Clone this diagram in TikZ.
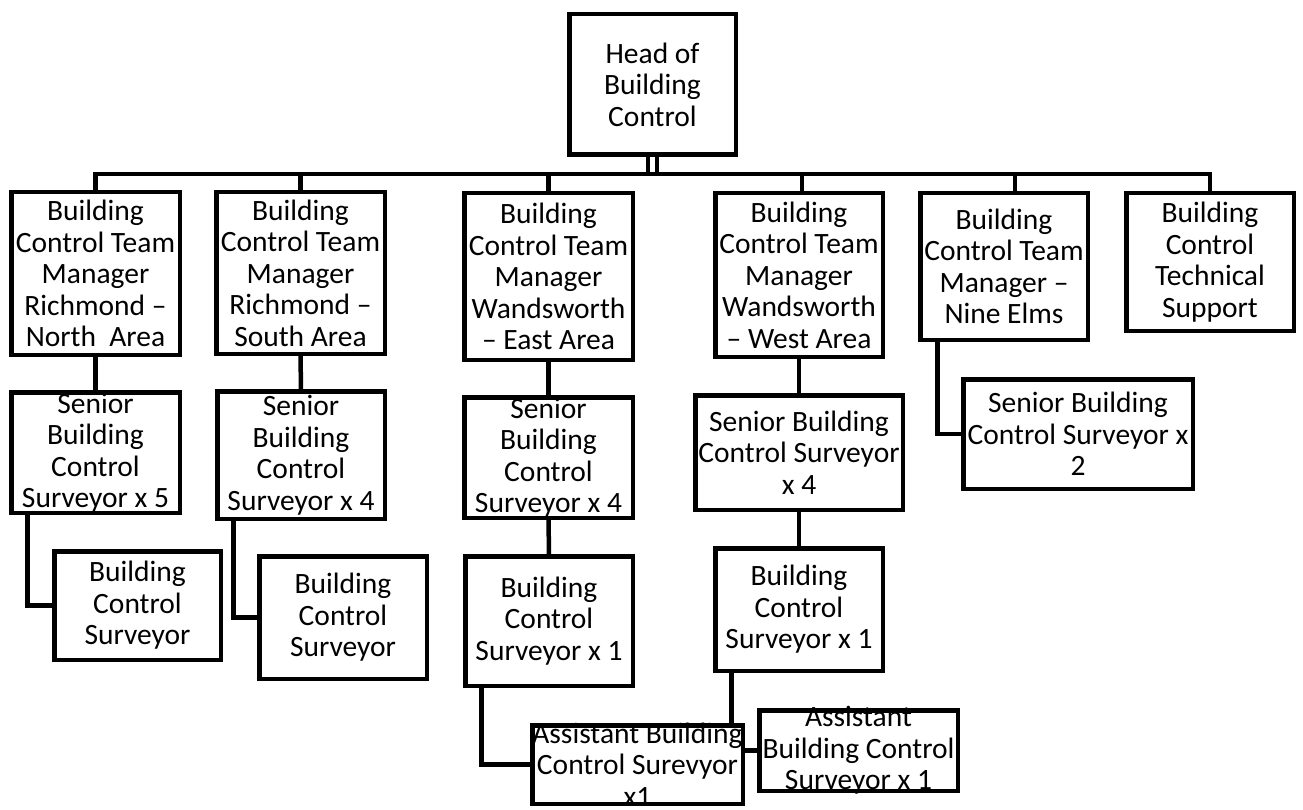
\documentclass[tikz,border=0pt]{standalone}
\usepackage{fontspec}
\setmainfont{Carlito}
\tikzset{
  obx/.style={draw, line width=4.5pt, inner sep=0pt, outer sep=0pt, fill=white},
  otx/.style={align=center, inner sep=0pt, font=\fontsize{29.5}{31.5}\selectfont},
  conn/.style={line width=4.5pt}
}
\newcommand{\obox}[6]{%
  \pgfmathsetmacro\ow{#4-#2-4.5}\pgfmathsetmacro\oh{#5-#3-4.5}%
  \node[obx, minimum width=\ow pt, minimum height=\oh pt] (#1) at ({(#2+#4)/2},{(#3+#5)/2}) {};
  \node[otx] (#1t) at (#1.center) {#6};}
\begin{document}
\begin{tikzpicture}[x=1pt,y=-1pt]
\useasboundingbox (0,0) rectangle (1303,810);
% boxes
\obox{head}{567}{12}{738}{157}{Head of\\Building\\Control}
\obox{m1}{9}{190}{182}{357}{Building\\Control Team\\Manager\\Richmond –\\North\ \ Area}
\obox{m2}{214}{190}{387}{356}{Building\\Control Team\\Manager\\Richmond –\\South Area}
\obox{m3}{462}{191}{635}{362}{Building\\Control Team\\Manager\\Wandsworth\\– East Area}
\obox{m4}{713}{191}{885}{359}{Building\\Control Team\\Manager\\Wandsworth\\– West Area}
\obox{m5}{918}{191}{1090}{342}{Building\\Control Team\\Manager –\\Nine Elms}
\obox{m6}{1124}{191}{1296}{333}{Building\\Control\\Technical\\Support}
\obox{s1}{9}{390}{182}{515}{Senior\\Building\\Control\\Surveyor x 5}
\obox{s2}{215}{389}{387}{521}{Senior\\Building\\Control\\Surveyor x 4}
\obox{s3}{462}{395}{635}{520}{Senior\\Building\\Control\\Surveyor x 4}
\obox{s4}{693}{393}{905}{512}{Senior Building\\Control Surveyor\\x 4}
\obox{s5}{961}{377}{1195}{491}{Senior Building\\Control Surveyor x\\2}
\obox{b1}{52}{549}{223}{662}{Building\\Control\\Surveyor}
\obox{b2}{257}{554}{429}{681}{Building\\Control\\Surveyor}
\obox{b3}{463}{554}{635}{688}{Building\\Control\\Surveyor x 1}
\obox{b4}{713}{546}{885}{673}{Building\\Control\\Surveyor x 1}
\obox{a1}{530}{723}{745}{806}{Assistant Building\\Control Surevyor\\x1}
\obox{a2}{757}{708}{960}{793}{Assistant\\Building Control\\Surveyor x 1}
% connectors
\coordinate (bus) at (661,174);
\draw[line width=4pt] ([xshift=-4.5pt]head.south) -- ([xshift=-4.5pt]head.south |- bus);
\draw[line width=4pt] ([xshift=4.5pt]head.south) -- ([xshift=4.5pt]head.south |- bus);
\draw[conn] (m1.north) -- (m1.north |- bus) -- (m6.north |- bus) -- (m6.north);
\draw[conn] (m2.north) -- (m2.north |- bus);
\draw[conn] (m3.north) -- (m3.north |- bus);
\draw[conn] ([xshift=3pt]m4.north) -- ([xshift=3pt]m4.north |- bus);
\draw[conn] ([xshift=11pt]m5.north) -- ([xshift=11pt]m5.north |- bus);
\draw[conn] (m1.south) -- (s1.north);
\draw[conn] (m2.south) -- (s2.north);
\draw[conn] (m3.south) -- (s3.north);
\draw[conn] (m4.south) -- (s4.north -| m4.south);
\draw[conn] ([xshift=16pt]s1.south west) |- (b1.west);
\draw[conn] ([xshift=16pt]s2.south west) |- (b2.west);
\draw[conn] (s3.south) -- (b3.north);
\draw[conn] (s4.south) -- (b4.north -| s4.south);
\draw[conn] ([xshift=17pt]m5.south west) |- (s5.west);
\draw[conn] ([xshift=16pt]b3.south west) |- (a1.west);
\draw[conn] ([xshift=16pt]b4.south west) -- ([xshift=16pt]b4.south west |- a1.north);
\draw[conn] (a1.east |- a2.west) -- (a2.west);
\end{tikzpicture}
\end{document}
